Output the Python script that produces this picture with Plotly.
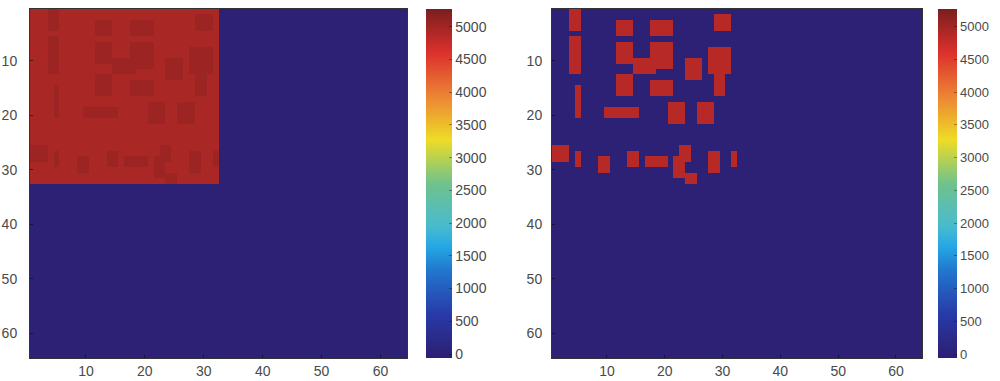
import numpy as np
import plotly.graph_objects as go

N = 64  # grid size (rows x cols)
axis_ticks = [10, 20, 30, 40, 50, 60]
cbar_ticks = [0, 500, 1000, 1500, 2000, 2500, 3000, 3500, 4000, 4500, 5000]
zmin_val, zmax_val = -60, 5270

background_value = 0
# left image: uniform block in the upper-left quadrant
left_block_rows = (1, 32)
left_block_cols = (1, 32)
left_block_value = 4950
left_spot_value = 5040

# right image: bright blobs (row_from, row_to, col_from, col_to)
blob_rects = [
    (1, 4, 4, 5), (6, 12, 4, 5), (15, 20, 5, 5),
    (3, 5, 12, 14), (3, 5, 18, 21), (2, 4, 29, 31),
    (7, 10, 12, 14), (7, 11, 18, 21), (10, 12, 15, 18),
    (10, 13, 24, 26), (8, 12, 28, 31), (13, 16, 29, 30),
    (13, 16, 12, 14), (14, 16, 18, 21),
    (19, 20, 10, 12), (19, 20, 13, 15), (18, 21, 21, 23), (18, 21, 26, 28),
    (26, 28, 1, 3), (27, 29, 5, 5), (28, 30, 9, 10), (27, 29, 14, 15),
    (28, 29, 17, 20), (26, 28, 23, 24), (28, 31, 22, 23), (31, 32, 24, 25),
    (27, 30, 28, 29), (27, 29, 32, 32),
]
blob_value = 4860

xs = list(range(1, N + 1))
ys = list(range(1, N + 1))

left = np.full((N, N), float(background_value))
r0, r1 = left_block_rows
c0, c1 = left_block_cols
left[r0 - 1:r1, c0 - 1:c1] = left_block_value
for (a, b, c, d) in blob_rects:
    left[a - 1:b, c - 1:d] = left_spot_value

right = np.full((N, N), float(background_value))
for (a, b, c, d) in blob_rects:
    right[a - 1:b, c - 1:d] = blob_value

colorscale = [
    [0.0, "rgb(44,30,112)"],
    [0.125, "rgb(40,58,168)"],
    [0.25, "rgb(34,118,205)"],
    [0.32, "rgb(36,168,228)"],
    [0.375, "rgb(72,186,208)"],
    [0.5, "rgb(112,194,140)"],
    [0.625, "rgb(238,220,38)"],
    [0.75, "rgb(236,132,52)"],
    [0.875, "rgb(220,48,44)"],
    [1.0, "rgb(122,30,30)"],
]

W, H = 1000, 381
def fx(px):
    return px / W
def fy(py):
    return (H - py) / H

top_px, bot_px = 9, 358

fig = go.Figure()
fig.add_trace(go.Heatmap(z=left, x=xs, y=ys, coloraxis="coloraxis",
                         xaxis="x", yaxis="y", hoverinfo="skip"))
fig.add_trace(go.Heatmap(z=right, x=xs, y=ys, coloraxis="coloraxis2",
                         xaxis="x2", yaxis="y2", hoverinfo="skip"))

font = dict(family="Liberation Sans, Arial, sans-serif", size=14, color="#4a4a4a")
font_cb_right = dict(family="Liberation Sans, Arial, sans-serif", size=13, color="#4a4a4a")

def cbar(xpx, thick, f):
    return dict(
        x=fx(xpx), xanchor="left", xpad=0, ypad=0,
        y=fy(bot_px), yanchor="bottom",
        len=(bot_px - top_px) / H, lenmode="fraction",
        thickness=thick, thicknessmode="pixels",
        outlinewidth=0,
        tickvals=cbar_ticks, ticktext=[str(t) for t in cbar_ticks],
        ticks="inside", ticklen=3, tickcolor="rgba(0,0,0,0.35)",
        tickfont=f,
    )

axis_common = dict(
    tickvals=axis_ticks, ticktext=[str(t) for t in axis_ticks],
    ticks="inside", ticklen=3, tickcolor="rgba(0,0,0,0.5)",
    showline=True, linecolor="#333", linewidth=1, mirror=True,
    showgrid=False, zeroline=False, tickfont=font, automargin=False,
)

fig.update_layout(
    width=W, height=H,
    margin=dict(l=0, r=0, t=0, b=0, autoexpand=False),
    paper_bgcolor="white", plot_bgcolor="white",
    font=font,
    coloraxis=dict(colorscale=colorscale, cmin=zmin_val, cmax=zmax_val,
                   colorbar=cbar(426, 26, font)),
    coloraxis2=dict(colorscale=colorscale, cmin=zmin_val, cmax=zmax_val,
                    colorbar=cbar(938, 19, font_cb_right)),
    xaxis=dict(domain=[fx(30), fx(407)], range=[0.5, N + 0.5], anchor="y",
               **axis_common),
    yaxis=dict(domain=[fy(bot_px), fy(top_px)], range=[N + 0.5, 0.5], anchor="x",
               ticklabelstandoff=9, **axis_common),
    xaxis2=dict(domain=[fx(552), fx(922)], range=[0.5, N + 0.5], anchor="y2",
                **axis_common),
    yaxis2=dict(domain=[fy(bot_px), fy(top_px)], range=[N + 0.5, 0.5], anchor="x2",
                ticklabelstandoff=6, **axis_common),
    showlegend=False,
)

fig.write_html(
    "out.html",
    config={"displayModeBar": False},
    post_script="document.body.style.margin='0';document.body.style.overflow='hidden';",
)
